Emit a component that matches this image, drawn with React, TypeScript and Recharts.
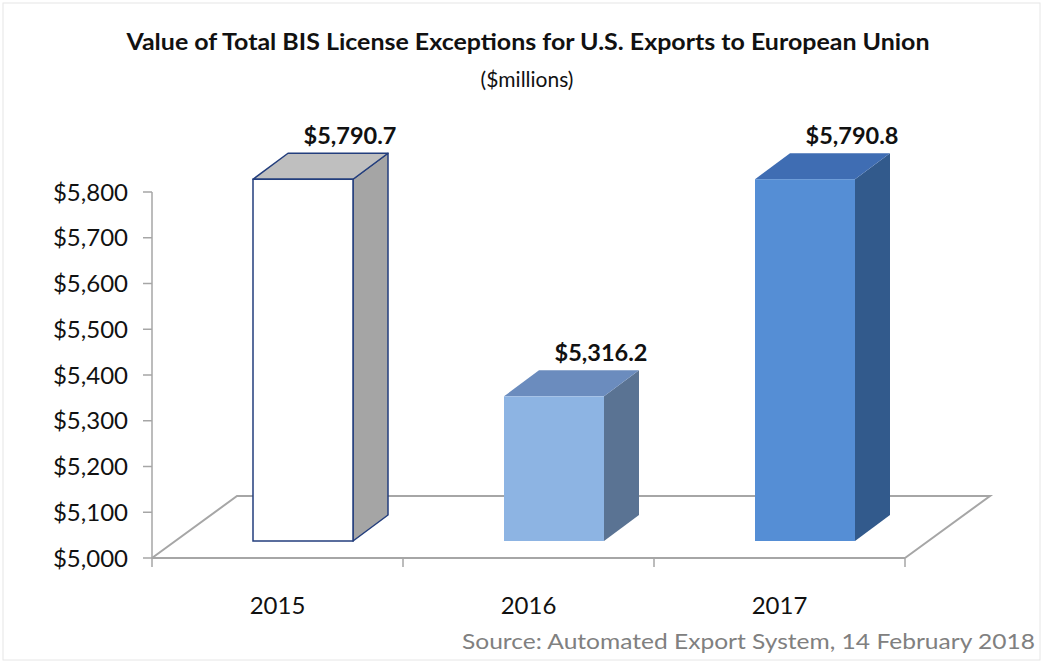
import { Bar, BarChart, LabelList, ReferenceArea, XAxis, YAxis } from "recharts";

const years = ["2015", "2016", "2017"];
const values = [5790.7, 5316.2, 5790.8];
const yTicks = [5000, 5100, 5200, 5300, 5400, 5500, 5600, 5700, 5800];

const data = years.map((year, i) => ({ year, value: values[i] }));

// front / top / side colours per bar
const faces = [
  { front: "#ffffff", top: "#bfbfbf", side: "#a5a5a5", stroke: "#233e7d" },
  { front: "#8db4e3", top: "#6b8cbe", side: "#5a7393", stroke: "none" },
  { front: "#558ed5", top: "#3f6db3", side: "#325a8c", stroke: "none" },
];

// bar front face sits a bit back into the floor; bar depth
const OFF_X = 25;
const OFF_Y = -17;
const DEPTH_X = 35;
const DEPTH_Y = -26;
// floor depth
const FLOOR_X = 85;
const FLOOR_Y = -62;

const FONT = "Lato, 'Open Sans', sans-serif";
const GRID = "#a6a6a6";

function Bar3D(props: any) {
  const { x, y, width, height, index } = props;
  const c = faces[index];
  const fx = x + OFF_X;
  const fy = y + OFF_Y;
  const sw = c.stroke === "none" ? 0 : 1.5;
  return (
    <g>
      <polygon
        points={`${fx + width},${fy} ${fx + width + DEPTH_X},${fy + DEPTH_Y} ${fx + width + DEPTH_X},${fy + height + DEPTH_Y} ${fx + width},${fy + height}`}
        fill={c.side}
        stroke={c.stroke}
        strokeWidth={sw}
        strokeLinejoin="round"
      />
      <polygon
        points={`${fx},${fy} ${fx + DEPTH_X},${fy + DEPTH_Y} ${fx + width + DEPTH_X},${fy + DEPTH_Y} ${fx + width},${fy}`}
        fill={c.top}
        stroke={c.stroke}
        strokeWidth={sw}
        strokeLinejoin="round"
      />
      <rect x={fx} y={fy} width={width} height={height} fill={c.front} stroke={c.stroke} strokeWidth={sw} />
    </g>
  );
}

function Floor(props: any) {
  const { x, y, width, height } = props;
  const bottom = y + height;
  const band = width / years.length;
  const ticks = [];
  for (let i = 0; i <= years.length; i++) {
    const tx = x + band * i;
    ticks.push(<line key={i} x1={tx} y1={bottom} x2={tx} y2={bottom + 9} stroke={GRID} strokeWidth={1.5} />);
  }
  return (
    <g>
      <polyline
        points={`${x},${bottom} ${x + FLOOR_X},${bottom + FLOOR_Y} ${x + width + FLOOR_X},${bottom + FLOOR_Y} ${x + width},${bottom}`}
        fill="none"
        stroke={GRID}
        strokeWidth={2}
      />
      {ticks}
    </g>
  );
}

function ValueLabel(props: any) {
  const { x, y, width, value } = props;
  return (
    <text
      x={x + OFF_X + width / 2 + 47}
      y={y + OFF_Y + DEPTH_Y - 18}
      textAnchor="middle"
      dominantBaseline="central"
      fontFamily={FONT}
      fontWeight={700}
      fontSize={23.5}
      fill="#111"
    >
      {"$" + value.toLocaleString("en-US", { minimumFractionDigits: 1, maximumFractionDigits: 1 })}
    </text>
  );
}

function YearTick(props: any) {
  const { x, y, payload } = props;
  return (
    <text x={x} y={y + 38} textAnchor="middle" dominantBaseline="central" fontFamily={FONT} fontSize={24} fill="#111">
      {payload.value}
    </text>
  );
}

export default function App() {
  return (
    <div style={{ position: "absolute", left: 0, top: 0, width: 1043, height: 663, background: "#fff" }}>
      <svg width={1043} height={663} style={{ position: "absolute", left: 0, top: 0 }}>
        <rect x={3} y={3} width={1037} height={657} fill="none" stroke="#e6e6e6" strokeWidth={1} />
        <text
          x={528}
          y={41}
          textAnchor="middle"
          dominantBaseline="central"
          fontFamily={FONT}
          fontWeight={700}
          fontSize={22}
          fill="#111"
          textLength={803}
          lengthAdjust="spacingAndGlyphs"
        >
          Value of Total BIS License Exceptions for U.S. Exports to European Union
        </text>
        <text x={527} y={78} textAnchor="middle" dominantBaseline="central" fontFamily={FONT} fontSize={21} fill="#111">
          ($millions)
        </text>
        <text
          x={1035}
          y={640}
          textAnchor="end"
          dominantBaseline="central"
          fontFamily={FONT}
          fontSize={22}
          fill="#808080"
          textLength={573}
          lengthAdjust="spacingAndGlyphs"
        >
          Source: Automated Export System, 14 February 2018
        </text>
      </svg>
      <div style={{ position: "absolute", left: 0, top: 0 }}>
        <BarChart width={1043} height={663} data={data} margin={{ top: 192, right: 138, bottom: 45, left: 0 }}>
          <ReferenceArea y1={5000} y2={5800} shape={<Floor />} ifOverflow="visible" />
          <XAxis
            dataKey="year"
            height={60}
            axisLine={{ stroke: GRID, strokeWidth: 2 }}
            tickLine={false}
            tick={<YearTick />}
            interval={0}
          />
          <YAxis
            width={152}
            domain={[5000, 5800]}
            ticks={yTicks}
            axisLine={{ stroke: GRID, strokeWidth: 1.5 }}
            tickLine={{ stroke: GRID, strokeWidth: 1.5 }}
            tickSize={9}
            tickMargin={15}
            tick={{ fontFamily: FONT, fontSize: 24, fill: "#111" }}
            tickFormatter={(v: number) => "$" + v.toLocaleString("en-US")}
          />
          <Bar dataKey="value" barSize={100} shape={<Bar3D />} isAnimationActive={false}>
            <LabelList dataKey="value" content={<ValueLabel />} />
          </Bar>
        </BarChart>
      </div>
    </div>
  );
}
